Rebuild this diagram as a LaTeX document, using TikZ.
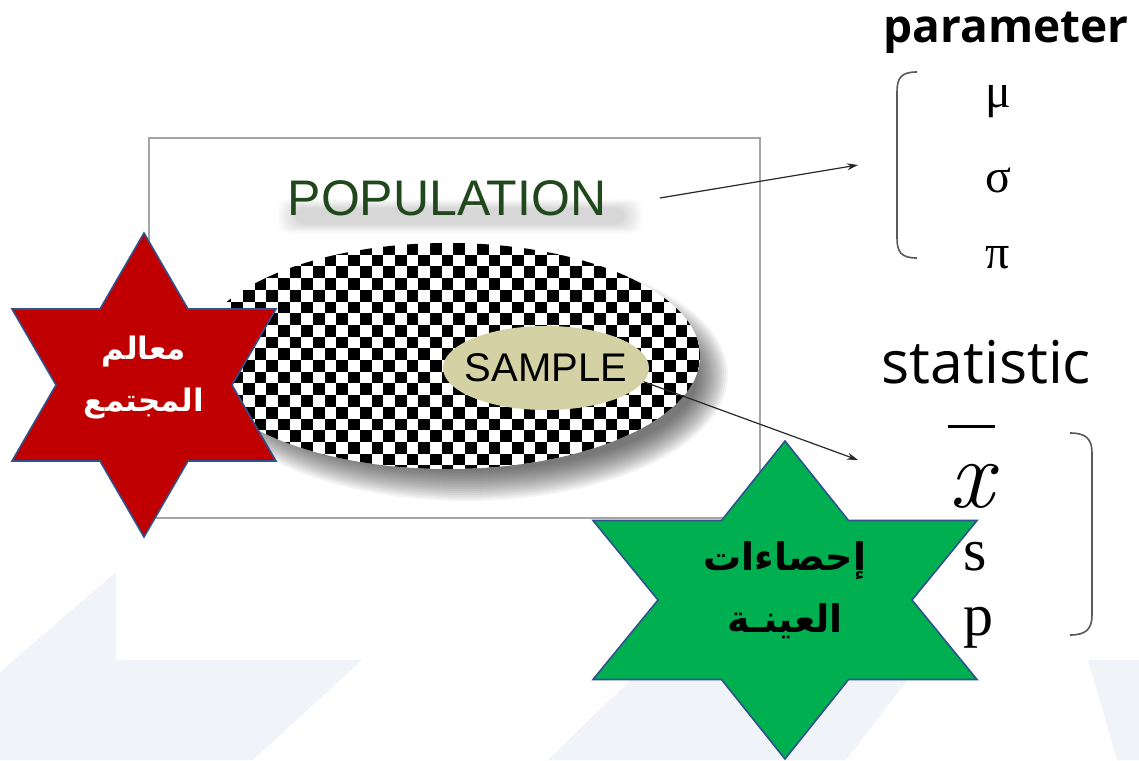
\documentclass[tikz,border=0pt]{standalone}
\usepackage{fontspec}
\usetikzlibrary{arrows.meta,shapes.geometric}
\TeXXeTstate=1
\newfontfamily\arabicfont[Script=Arabic]{DejaVu Sans}
\newfontfamily\arialf{Liberation Sans}
\newfontfamily\timesf{Liberation Serif}
\newfontfamily\opensans{Open Sans}
\definecolor{bandgrey}{RGB}{240,243,247}
\definecolor{popgreen}{RGB}{32,72,28}
\definecolor{khaki}{RGB}{212,210,164}
\definecolor{starred}{RGB}{192,0,0}
\definecolor{stargreen}{RGB}{0,176,80}
\definecolor{starblue}{RGB}{47,82,143}
\definecolor{boxgrey}{RGB}{165,165,165}
\definecolor{arrowgrey}{RGB}{40,40,40}
\tikzset{
  band/.style={fill=bandgrey},
  starshape/.style={draw=starblue, line width=1.6pt, line join=miter},
  arr/.style={draw=arrowgrey, line width=1.2pt, -{Stealth[length=11pt,width=7pt]}},
  brack/.style={draw=black!65, line width=1.6pt},
  greek/.style={font=\timesf\fontsize{48}{48}\selectfont, anchor=base},
  latin/.style={font=\timesf\fontsize{60}{60}\selectfont, anchor=base},
}
\begin{document}
\begin{tikzpicture}[x=1pt,y=-1pt]
\useasboundingbox (0,0) rectangle (1139,760);
\fill[white] (0,0) rectangle (1139,760);
% background bands
\fill[band] (116,572) -- (116,660) -- (362,660) -- (253,760) -- (0,760) -- (0,672) -- cycle;
\fill[band] (651,660) -- (548,760) -- (846,760) -- (923,660) -- cycle;
\fill[band] (1088,660) -- (1139,660) -- (1139,760) -- (1117,760) -- cycle;
% picture box
\draw[boxgrey, line width=1.5pt] (149,138) rectangle (760,518);
% POPULATION soft shadow
\foreach \k in {0,...,9} {
  \fill[black, opacity=0.014, rounded corners=10pt] (296-2*\k,208-\k) rectangle (624+2*\k,224+\k);
}
\node[text=popgreen, font=\arialf\fontsize{50}{50}\selectfont] (pop) at (447,198) {POPULATION};
% ellipse shadow
\foreach \k in {0,...,15} {
  \fill[black, opacity=0.045] (466,375) ellipse [x radius={262-2*\k}, y radius={126-2*\k}];
}
% checkered ellipse
\begin{scope}
\clip (448,356) ellipse [x radius=252, y radius=113];
\fill[white] (190,235) rectangle (710,480);
\foreach \r in {0,...,19} {
  \foreach \c in {0,...,43} {
    \pgfmathtruncatemacro\m{mod(\r+\c,2)}
    \ifnum\m=0
      \fill[black] (196+\c*11.7,243+\r*11.7) rectangle ++(11.7,11.7);
    \fi
  }
}
\end{scope}
% sample
\node[ellipse, fill=khaki, minimum width=206pt, minimum height=84pt, inner sep=0pt] (sampleell) at (546,368) {};
\node[font=\arialf\fontsize{40}{40}\selectfont] (sample) at (546,368) {SAMPLE};
% right side: parameter
\node[anchor=base west, font=\opensans\bfseries\fontsize{46}{46}\selectfont] (param) at (880,43) {parameter};
\draw[brack] (917,72) .. controls (901,72) and (897,78) .. (897,92) -- (897,238) .. controls (897,252) and (901,258) .. (917,258);
\node[greek] (mu) at (998,107) {μ};
\node[greek] (sigma) at (998,192) {σ};
\node[greek] (pi) at (998,268) {π};
% statistic
\node[anchor=base west, font=\opensans\fontsize{59}{59}\selectfont] (stat) at (878,383) {statistic};
\draw[brack] (1070,433) .. controls (1086,433) and (1092,439) .. (1092,453) -- (1092,615) .. controls (1092,629) and (1086,635) .. (1070,635);
\draw[line width=3pt] (948,426) -- (995,426);
\node[anchor=base, font=\fontsize{98}{98}\selectfont\itshape] (xbar) at (972,507) {x};
\node[latin] (s) at (975,570) {s};
\node[latin] (p) at (978,635) {p};
% arrows
\coordinate (paramend) at (858,165);
\coordinate (statend) at (858,460);
\draw[arr] ([xshift=50pt]pop.east) -- (paramend);
\draw[arr] (sampleell.352) -- (statend);
% red star
\draw[starshape, fill=starred] (144,233) -- (188,309) -- (276,309) -- (232,385) -- (276,461) -- (188,461) -- (144,537) -- (100,461) -- (12,461) -- (56,385) -- (12,309) -- (100,309) -- cycle;
\node[text=white, align=center, font=\arabicfont\bfseries\fontsize{31}{52}\selectfont] (redtext) at (144,378) {\beginR معالم\endR\\\beginR المجتمع\endR};
% green star
\draw[starshape, fill=stargreen] (785,441) -- (848.5,520.5) -- (977,520.5) -- (912,600) -- (977,679.5) -- (848.5,679.5) -- (785,759) -- (721.5,679.5) -- (593,679.5) -- (658,600) -- (593,520.5) -- (721.5,520.5) -- cycle;
\node[text=black, align=center, font=\arabicfont\bfseries\fontsize{38}{62}\selectfont] (greentext) at (785,590) {\beginR إحصاءات\endR\\\beginR العينـة\endR};
\end{tikzpicture}
\end{document}
